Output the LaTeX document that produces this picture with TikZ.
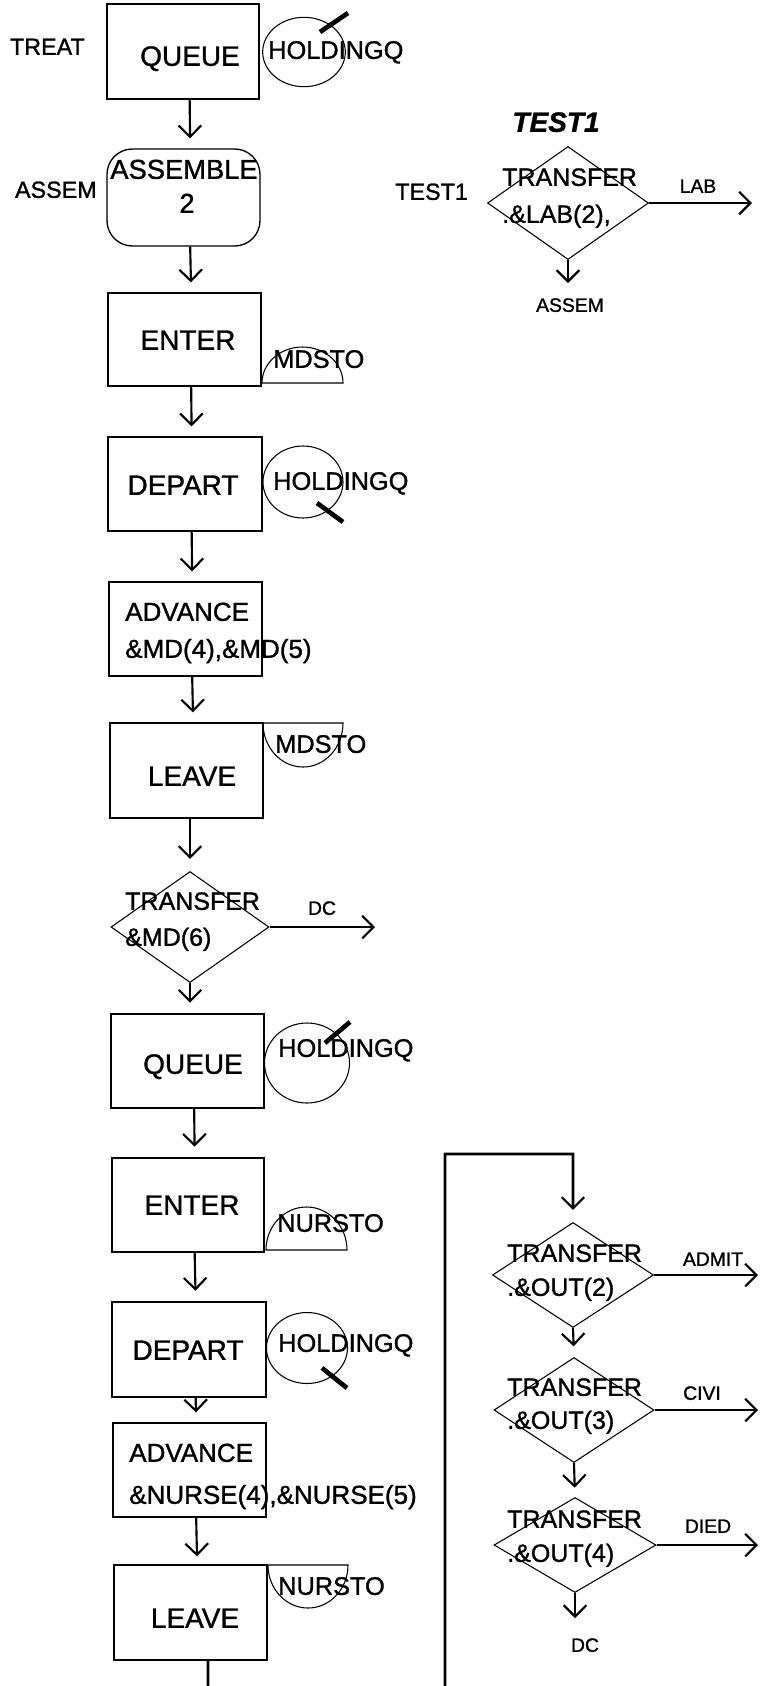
\documentclass[tikz,border=0pt]{standalone}
\usepackage{fontspec}
\setmainfont{Liberation Sans}[FakeBold=1.2]
\usetikzlibrary{arrows.meta,shapes.geometric}
\begin{document}
\begin{tikzpicture}[x=0.75pt,y=-0.75pt,
  box/.style={draw,line width=1pt,rectangle,inner sep=0pt},
  dia/.style={draw,line width=0.8pt,diamond,inner sep=0pt,shape aspect=1},
  oval/.style={draw,line width=0.8pt,ellipse,inner sep=0pt},
  stor/.style={draw,line width=0.8pt},
  slash/.style={line width=3.5pt},
  arr/.style={line width=1.6pt,-{Straight Barb[length=8.5pt,width=17pt,line width=1.6pt]},shorten >=7.5pt},
  arrfree/.style={line width=1.6pt,-{Straight Barb[length=8.5pt,width=17pt,line width=1.6pt]}},
  loopl/.style={line width=2.2pt,-{Straight Barb[length=8.5pt,width=17pt,line width=1.6pt]},shorten >=9pt},
  txt/.style={inner sep=0pt,text height=0.72em,text depth=0pt},
  bigt/.style={txt,font=\fontsize{21}{25}\selectfont},
  advt/.style={txt,font=\fontsize{19.5}{23}\selectfont,anchor=west},
  diat/.style={txt,font=\fontsize{18.75}{22}\selectfont,anchor=west},
  stort/.style={txt,font=\fontsize{19}{22}\selectfont,anchor=west},
  sidet/.style={txt,font=\fontsize{17.5}{20}\selectfont},
  smallt/.style={txt,font=\fontsize{14.5}{17}\selectfont}
]
\fill[white] (0,0) rectangle (768,1686);
\useasboundingbox (0,0) rectangle (768,1686);

% ---------- main column boxes ----------
\node[box,minimum width=114pt,minimum height=71.25pt] (q1) at (183,51.5) {};
\node[box,rounded corners=19pt,minimum width=114.75pt,minimum height=72.75pt] (as) at (183.5,197.5) {};
\node[box,minimum width=114.75pt,minimum height=69.75pt] (en1) at (184.5,339.5) {};
\node[box,minimum width=115.5pt,minimum height=70.5pt] (de1) at (185,484) {};
\node[box,minimum width=114.75pt,minimum height=70.5pt] (ad1) at (185.5,629) {};
\node[box,minimum width=114.75pt,minimum height=71.25pt] (le1) at (186.5,770.5) {};
\node[dia,minimum width=118.5pt,minimum height=83.25pt] (tr1) at (190,927) {};
\node[box,minimum width=114.75pt,minimum height=70.5pt] (q2) at (187.5,1061) {};
\node[box,minimum width=114pt,minimum height=70.5pt] (en2) at (188,1205) {};
\node[box,minimum width=115.5pt,minimum height=71.25pt] (de2) at (189,1349.5) {};
\node[box,minimum width=114.75pt,minimum height=70.5pt] (ad2) at (189.5,1470) {};
\node[box,minimum width=114.75pt,minimum height=71.25pt] (le2) at (190.5,1612.5) {};

% ---------- texts in main column ----------
\node[sidet,anchor=east] (lTreat) at (85,50) {TREAT};
\node[sidet,anchor=east] (lAssem) at (97,193) {ASSEM};
\node[bigt] (tq1) at (190,61) {QUEUE};
\node[txt,font=\fontsize{20.5}{24}\selectfont] (tas1) at (184,174) {ASSEMBLE};
\node[txt,font=\fontsize{20.5}{24}\selectfont] (tas2) at (187,208) {2};
\node[bigt] (ten1) at (188,345) {ENTER};
\node[bigt] (tde1) at (183,490) {DEPART};
\node[advt] (tad1a) at (125,616) {ADVANCE};
\node[advt] (tad1b) at (125,653) {\&MD(4),\&MD(5)};
\node[bigt] (tle1) at (192,781) {LEAVE};
\node[diat] (ttr1a) at (125,905) {TRANSFER};
\node[diat] (ttr1b) at (125,941) {\&MD(6)};
\node[smallt] (lDC1) at (322,910) {DC};
\node[bigt] (tq2) at (193,1069) {QUEUE};
\node[bigt] (ten2) at (192,1210) {ENTER};
\node[bigt] (tde2) at (188,1355) {DEPART};
\node[advt] (tad2a) at (129,1457) {ADVANCE};
\node[advt] (tad2b) at (129,1499) {\&NURSE(4),\&NURSE(5)};
\node[bigt] (tle2) at (195,1623) {LEAVE};

% ---------- queues (HOLDINGQ) ----------
\node[oval,minimum width=62pt,minimum height=52pt] (hq1) at (304,52) {};
\node[oval,minimum width=60pt,minimum height=54pt] (hq2) at (303,482) {};
\node[oval,minimum width=63.75pt,minimum height=60pt] (hq3) at (307,1063) {};
\node[oval,minimum width=60.75pt,minimum height=53.25pt] (hq4) at (307,1348) {};
\node[stort] (thq1) at (268,54) {HOLDINGQ};
\node[stort] (thq2) at (273,485) {HOLDINGQ};
\node[stort] (thq3) at (278,1052) {HOLDINGQ};
\node[stort] (thq4) at (278,1347) {HOLDINGQ};
\draw[slash] ([shift={(16,-20)}]hq1.center) -- ([shift={(44,-39)}]hq1.center);
\draw[slash] ([shift={(14,21)}]hq2.center) -- ([shift={(40,40)}]hq2.center);
\draw[slash] ([shift={(18,-20)}]hq3.center) -- ([shift={(43,-41)}]hq3.center);
\draw[slash] ([shift={(15,20)}]hq4.center) -- ([shift={(40,40)}]hq4.center);

% ---------- storages (half ellipses) ----------
\draw[stor] (343,383) arc[start angle=0,end angle=180,x radius=30.375pt,y radius=27pt] -- cycle;
\draw[stor] (343,723) arc[start angle=0,end angle=-180,x radius=30pt,y radius=33pt] -- cycle;
\draw[stor] (347,1250) arc[start angle=0,end angle=180,x radius=30.375pt,y radius=32.25pt] -- cycle;
\draw[stor] (348,1565) arc[start angle=0,end angle=-180,x radius=30pt,y radius=32.25pt] -- cycle;
\node[stort] (tms1) at (273,363) {MDSTO};
\node[stort] (tms2) at (275,748) {MDSTO};
\node[stort] (tns1) at (277,1227) {NURSTO};
\node[stort] (tns2) at (278,1590) {NURSTO};

% ---------- main column arrows ----------
\draw[arr] ([xshift=5pt]q1.south) -- ([xshift=5pt]as.north);
\draw[arr] ([xshift=5pt]as.south) -- ([xshift=5pt]en1.north);
\draw[arr] ([xshift=5pt]en1.south) -- ([xshift=5pt]de1.north);
\draw[arr] ([xshift=5pt]de1.south) -- ([xshift=5pt]ad1.north);
\draw[arr] ([xshift=5pt]ad1.south) -- ([xshift=5pt]le1.north);
\draw[arr,shorten >=9pt] (le1.south -| tr1.north) -- (tr1.north);
\draw[arr,shorten >=8pt] (tr1.south) -- (tr1.south |- q2.north);
\draw[arr,shorten >=8pt] ([xshift=5pt]q2.south) -- ([xshift=5pt]en2.north);
\draw[arr,shorten >=8pt] ([xshift=5pt]en2.south) -- ([xshift=5pt]de2.north);
\draw[arr] ([xshift=5pt]de2.south) -- ([xshift=5pt]ad2.north);
\draw[arr,shorten >=6pt] ([xshift=5pt]ad2.south) -- ([xshift=5pt]le2.north);
\coordinate (dcEnd1) at (375,927);
\draw[arrfree] (tr1.east) -- (dcEnd1);

% ---------- TEST1 block ----------
\node[txt,font=\bfseries\itshape\fontsize{21}{25}\selectfont] (title) at (556,127) {TEST1};
\node[sidet,anchor=west] (lTest) at (395,195) {TEST1};
\node[dia,minimum width=120.75pt,minimum height=84.75pt] (t1) at (568,203) {};
\node[diat] (tt1a) at (502,181) {TRANSFER};
\node[diat] (tt1b) at (502,218) {.\&LAB(2),};
\coordinate (labEnd) at (752,203);
\draw[arrfree] (t1.east) -- (labEnd);
\node[smallt] (lLab) at (698,188) {LAB};
\coordinate (asEnd) at (568,283);
\draw[arrfree] (t1.south) -- (asEnd);
\node[smallt] (lAs2) at (570,307) {ASSEM};

% ---------- OUT transfers ----------
\node[dia,minimum width=120.75pt,minimum height=78.75pt] (o2) at (573,1275) {};
\node[dia,minimum width=120pt,minimum height=78.75pt] (o3) at (574,1410) {};
\node[dia,minimum width=121.5pt,minimum height=71.25pt] (o4) at (575,1545) {};
\node[diat] (to2a) at (507,1257) {TRANSFER};
\node[diat] (to2b) at (507,1291) {.\&OUT(2)};
\node[diat] (to3a) at (507,1391) {TRANSFER};
\node[diat] (to3b) at (507,1424) {.\&OUT(3)};
\node[diat] (to4a) at (507,1523) {TRANSFER};
\node[diat] (to4b) at (507,1557) {.\&OUT(4)};
\coordinate (admEnd) at (758,1275);
\coordinate (civEnd) at (758,1410);
\coordinate (diedEnd) at (758,1545);
\coordinate (dcEnd2) at (575,1618);
\draw[arrfree] (o2.east) -- (admEnd);
\draw[arrfree] (o3.east) -- (civEnd);
\draw[arrfree] (o4.east) -- (diedEnd);
\draw[arr,shorten >=8pt] (o2.south) -- (o3.north);
\draw[arr,shorten >=7pt] (o3.south) -- (o4.north);
\draw[arrfree] (o4.south) -- (dcEnd2);
\node[smallt] (lAdm) at (713,1261) {ADMIT};
\node[smallt] (lCivi) at (702,1395) {CIVI};
\node[smallt] (lDied) at (708,1528) {DIED};
\node[smallt] (lDC2) at (585,1647) {DC};

% ---------- loop from LEAVE to OUT transfers ----------
\coordinate (lpB1) at (208,1720);
\coordinate (lpB2) at (445,1720);
\coordinate (lpT) at (445,1154);
\draw[loopl] ([xshift=13.1pt]le2.south) -- (lpB1) -- (lpB2) -- (lpT) -| (o2.north);
\end{tikzpicture}
\end{document}
